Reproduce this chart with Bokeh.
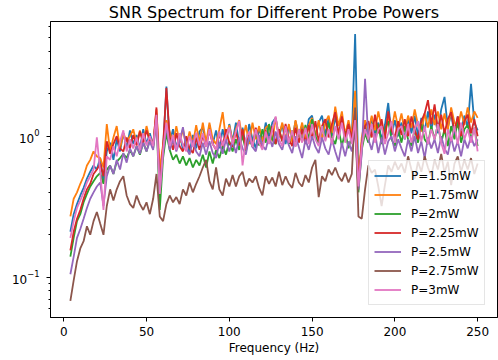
from bokeh.plotting import figure
from bokeh.models import Range1d, FixedTicker
from bokeh.embed import file_html
from bokeh.resources import INLINE

# Frequency grid (Hz)
freq = list(range(4, 251, 2))

snr_1_5mW = [
    0.21, 0.28, 0.33, 0.38, 0.43, 0.50, 0.56, 0.62, 0.58, 0.70,
    0.48, 0.78, 0.90, 0.68, 0.95, 0.78, 1.05, 0.82, 1.10, 0.88,
    1.02, 0.82, 1.12, 0.88, 1.05, 0.86, 1.45, 0.48, 0.80, 2.25,
    0.90, 1.12, 0.82, 1.05, 0.80, 0.98, 0.76, 1.02, 0.82, 1.08,
    1.15, 0.85, 1.20, 0.88, 1.10, 0.82, 1.12, 0.90, 1.22, 0.92,
    1.25, 0.88, 1.15, 0.85, 1.22, 0.95, 0.82, 1.15, 0.92, 1.25,
    0.98, 1.25, 1.35, 0.98, 1.22, 0.88, 1.18, 0.95, 1.28, 1.00,
    1.20, 0.92, 1.32, 1.40, 0.98, 1.25, 1.40, 1.02, 1.35, 1.00,
    1.38, 1.05, 1.22, 1.02, 1.25, 0.95, 5.30, 0.50, 0.85, 1.20,
    0.98, 1.35, 1.05, 1.25, 0.95, 1.20, 1.72, 1.02, 1.30, 1.00,
    1.25, 0.95, 1.35, 1.05, 1.40, 1.00, 1.35, 1.08, 1.50, 1.12,
    1.42, 1.05, 1.55, 1.90, 1.15, 1.45, 1.02, 1.38, 1.10, 1.40,
    1.15, 2.35, 1.25, 1.10,
]
snr_1_75mW = [
    0.27, 0.36, 0.40, 0.46, 0.52, 0.62, 0.68, 0.78, 0.72, 0.70,
    0.60, 1.22, 0.78, 0.98, 1.18, 0.82, 1.05, 0.92, 1.00, 1.12,
    0.88, 1.10, 0.90, 1.18, 0.95, 0.88, 1.55, 0.58, 0.88, 1.30,
    1.08, 0.88, 1.18, 0.90, 1.12, 0.85, 1.08, 0.88, 1.20, 0.90,
    1.25, 0.90, 1.25, 0.95, 0.88, 1.12, 1.48, 0.95, 1.20, 0.90,
    1.12, 1.30, 0.95, 1.20, 0.88, 1.25, 0.95, 1.18, 0.92, 1.15,
    1.20, 0.92, 1.35, 1.00, 1.25, 0.95, 1.22, 0.90, 1.30, 1.00,
    1.25, 0.95, 1.20, 1.35, 1.00, 1.30, 0.95, 1.25, 1.40, 1.05,
    1.62, 1.18, 1.50, 1.02, 1.30, 1.00, 2.10, 0.48, 0.98, 1.30,
    1.05, 1.40, 1.10, 1.50, 1.15, 1.02, 1.40, 1.10, 1.50, 1.15,
    1.45, 1.08, 1.40, 1.15, 1.55, 1.20, 1.08, 1.45, 1.15, 1.55,
    1.20, 1.50, 1.12, 1.45, 1.10, 1.60, 1.25, 1.15, 1.50, 1.20,
    1.60, 1.25, 1.50, 1.35,
]
snr_2mW = [
    0.14, 0.19, 0.25, 0.28, 0.34, 0.39, 0.44, 0.48, 0.52, 0.55,
    0.46, 0.58, 0.62, 0.54, 0.66, 0.70, 0.75, 0.70, 0.80, 0.72,
    0.85, 0.74, 0.90, 0.78, 0.95, 0.82, 1.40, 0.30, 0.70, 1.05,
    0.80, 0.68, 0.74, 0.64, 0.72, 0.62, 0.70, 0.60, 0.68, 0.62,
    0.74, 0.60, 0.78, 0.64, 0.80, 0.70, 0.85, 0.74, 0.92, 0.78,
    0.95, 0.80, 1.02, 0.78, 0.98, 0.84, 1.10, 0.86, 1.12, 0.90,
    1.22, 0.95, 0.88, 1.12, 0.92, 1.18, 0.88, 1.10, 0.85, 1.12,
    0.92, 1.20, 0.95, 1.32, 1.00, 0.88, 1.18, 0.95, 1.25, 0.98,
    0.88, 1.12, 0.85, 1.08, 0.82, 1.00, 1.30, 0.40, 0.80, 1.05,
    0.90, 1.18, 0.95, 1.22, 0.88, 1.12, 1.28, 0.95, 0.85, 1.12,
    0.90, 1.18, 0.95, 0.85, 1.12, 0.90, 1.22, 0.95, 0.88, 1.18,
    0.95, 1.22, 0.90, 1.12, 0.85, 1.18, 0.95, 1.28, 0.90, 1.12,
    1.20, 0.95, 1.15, 0.85,
]
snr_2_25mW = [
    0.155, 0.21, 0.26, 0.30, 0.36, 0.42, 0.46, 0.54, 0.58, 0.64,
    0.52, 0.92, 0.75, 0.88, 1.00, 0.82, 0.78, 0.98, 0.82, 1.02,
    0.86, 1.08, 0.90, 1.10, 0.92, 0.85, 1.60, 0.44, 0.85, 2.20,
    0.98, 0.80, 1.05, 0.85, 0.78, 1.00, 0.82, 0.76, 0.98, 0.80,
    1.02, 0.84, 1.10, 0.88, 0.80, 1.05, 0.85, 1.12, 0.90, 0.84,
    1.08, 0.86, 1.12, 0.80, 1.05, 0.85, 1.15, 0.90, 0.84, 1.10,
    0.90, 1.18, 0.88, 1.12, 0.92, 1.22, 0.95, 0.85, 1.15, 0.90,
    1.12, 0.88, 1.20, 0.95, 1.28, 0.92, 1.18, 1.32, 0.98, 1.22,
    1.48, 1.02, 1.38, 0.98, 1.22, 0.95, 1.50, 0.46, 0.90, 1.18,
    1.28, 0.98, 1.42, 1.05, 1.32, 0.95, 1.50, 1.10, 0.98, 1.28,
    1.02, 1.32, 1.00, 1.38, 1.10, 0.95, 1.28, 1.45, 1.80, 1.22,
    1.68, 1.12, 1.42, 1.05, 1.32, 1.48, 1.08, 1.38, 1.00, 1.28,
    1.42, 1.05, 1.32, 1.00,
]
snr_2_5mW = [
    0.105, 0.14, 0.19, 0.22, 0.26, 0.31, 0.36, 0.40, 0.44, 0.47,
    0.32, 0.52, 0.62, 0.54, 0.68, 0.58, 0.76, 0.65, 0.82, 0.72,
    0.85, 0.75, 0.90, 0.78, 0.92, 0.80, 1.30, 0.40, 0.75, 1.20,
    0.80, 0.95, 0.78, 0.92, 1.16, 0.82, 0.74, 0.94, 0.78, 0.72,
    0.90, 0.74, 0.92, 0.76, 0.70, 0.90, 0.75, 0.95, 0.78, 0.92,
    0.76, 0.98, 0.82, 0.74, 1.00, 0.84, 0.78, 1.02, 0.86, 0.80,
    1.00, 0.84, 1.08, 0.88, 0.80, 1.02, 0.86, 0.76, 1.00, 0.84,
    0.70, 0.95, 0.80, 1.00, 0.84, 0.76, 0.98, 0.82, 0.74, 0.95,
    0.78, 0.66, 0.90, 0.72, 0.92, 0.78, 1.10, 0.42, 0.75, 2.55,
    0.95, 0.80, 1.05, 0.76, 0.98, 0.74, 0.92, 1.00, 0.78, 0.95,
    0.82, 0.72, 0.95, 0.78, 1.00, 0.76, 0.92, 0.70, 0.98, 0.82,
    0.95, 0.76, 1.00, 0.82, 0.74, 0.98, 0.78, 0.92, 0.72, 0.95,
    0.82, 1.00, 0.85, 0.95,
]
snr_2_75mW = [
    0.068, 0.095, 0.13, 0.16, 0.18, 0.23, 0.20, 0.25, 0.29, 0.24,
    0.20, 0.32, 0.42, 0.35, 0.42, 0.48, 0.52, 0.38, 0.33, 0.31,
    0.38, 0.33, 0.30, 0.34, 0.28, 0.36, 0.54, 0.27, 0.25, 0.33,
    0.38, 0.34, 0.37, 0.33, 0.42, 0.38, 0.47, 0.40, 0.46, 0.52,
    0.60, 0.68, 0.48, 0.42, 0.60, 0.42, 0.38, 0.50, 0.44, 0.53,
    0.44, 0.52, 0.56, 0.44, 0.50, 0.47, 0.52, 0.43, 0.38, 0.52,
    0.46, 0.51, 0.44, 0.56, 0.45, 0.52, 0.46, 0.43, 0.55, 0.47,
    0.44, 0.53, 0.47, 0.60, 0.68, 0.37, 0.52, 0.48, 0.58, 0.53,
    0.60, 0.52, 0.48, 0.55, 0.47, 0.54, 1.60, 0.27, 0.26, 0.42,
    0.62, 0.55, 0.58, 0.44, 0.32, 0.45, 0.62, 0.56, 0.66, 0.58,
    0.64, 0.55, 0.72, 0.58, 0.50, 0.66, 0.56, 0.72, 0.60, 0.52,
    0.68, 0.58, 0.75, 0.55, 0.66, 0.45, 0.64, 0.72, 0.56, 0.68,
    0.58, 0.70, 0.54, 0.64,
]
snr_3mW = [
    0.19, 0.25, 0.31, 0.35, 0.40, 0.47, 0.52, 0.58, 0.98, 0.56,
    0.30, 0.72, 0.68, 0.85, 0.72, 0.92, 1.10, 0.78, 0.95, 0.82,
    0.98, 0.80, 1.05, 0.86, 1.00, 0.85, 1.42, 0.39, 0.80, 1.25,
    0.85, 1.02, 0.80, 1.05, 0.86, 0.78, 1.00, 0.84, 1.06, 0.86,
    1.05, 0.84, 1.12, 0.88, 0.80, 1.08, 0.86, 1.00, 1.15, 0.88,
    1.08, 1.28, 0.62, 0.95, 1.08, 0.84, 1.12, 0.90, 0.80, 1.08,
    0.88, 1.12, 1.38, 0.95, 0.85, 1.18, 0.90, 1.10, 0.84, 1.12,
    0.90, 1.15, 0.88, 1.22, 0.95, 0.85, 1.18, 0.92, 1.12, 0.88,
    1.18, 0.95, 1.25, 0.90, 1.12, 0.88, 1.30, 0.44, 0.85, 1.12,
    0.95, 1.22, 0.90, 1.12, 1.18, 0.88, 1.05, 1.28, 0.90, 1.12,
    1.18, 0.95, 1.22, 0.90, 1.12, 1.28, 0.92, 1.18, 0.88, 1.12,
    0.95, 1.22, 0.90, 0.75, 1.12, 0.92, 1.18, 0.88, 1.25, 0.95,
    1.12, 0.90, 1.15, 0.78,
]

series = [
    ("P=1.5mW", snr_1_5mW, "#1f77b4"),
    ("P=1.75mW", snr_1_75mW, "#ff7f0e"),
    ("P=2mW", snr_2mW, "#2ca02c"),
    ("P=2.25mW", snr_2_25mW, "#d62728"),
    ("P=2.5mW", snr_2_5mW, "#9467bd"),
    ("P=2.75mW", snr_2_75mW, "#8c564b"),
    ("P=3mW", snr_3mW, "#e377c2"),
]

x_ticks = [0, 50, 100, 150, 200, 250]
y_major = [0.1, 1]
y_minor = [0.06, 0.07, 0.08, 0.09, 0.2, 0.3, 0.4, 0.5, 0.6, 0.7, 0.8, 0.9,
           2, 3, 4, 5, 6]

FONT = "DejaVu Sans"

p = figure(width=498, height=360, y_axis_type="log",
           x_range=Range1d(-8.0, 262.0), y_range=Range1d(0.0518, 6.51),
           output_backend="svg", toolbar_location=None,
           title="SNR Spectrum for Different Probe Powers",
           min_border_left=50, min_border_right=1,
           min_border_top=21, min_border_bottom=43)

for label, vals, color in series:
    p.line(freq, vals, line_color=color, line_width=1.8, legend_label=label)

p.title.align = "center"
p.title.text_font = FONT
p.title.text_font_size = "16px"
p.title.text_font_style = "normal"
p.title.text_color = "#000000"
p.title.standoff = 0
p.title.offset = 0

p.xgrid.visible = False
p.ygrid.visible = False
p.outline_line_color = "#000000"
p.outline_line_width = 1
p.outline_line_alpha = 1
p.background_fill_color = "white"
p.border_fill_color = "white"

p.xaxis.ticker = FixedTicker(ticks=x_ticks)
p.yaxis.ticker = FixedTicker(ticks=y_major, minor_ticks=y_minor)
p.xaxis.axis_label = "Frequency (Hz)"

for ax in (p.xaxis[0], p.yaxis[0]):
    ax.axis_line_color = "#000000"
    ax.major_tick_line_color = "#000000"
    ax.minor_tick_line_color = "#000000"
    ax.major_tick_out = 4
    ax.major_tick_in = 0
    ax.minor_tick_out = 2
    ax.minor_tick_in = 0
    ax.major_label_text_font = FONT
    ax.major_label_text_font_size = "12px"
    ax.major_label_text_color = "#000000"
    ax.axis_label_text_font = FONT
    ax.axis_label_text_font_size = "12px"
    ax.axis_label_text_font_style = "normal"
    ax.axis_label_text_color = "#000000"

p.xaxis.major_label_standoff = 5
p.xaxis.axis_label_standoff = 2
p.yaxis.major_label_standoff = 7

lg = p.legend[0]
lg.location = (318, 12)
lg.label_text_font = FONT
lg.label_text_font_size = "12px"
lg.label_text_color = "#000000"
lg.glyph_width = 27
lg.glyph_height = 19
lg.label_height = 19
lg.label_standoff = 10
lg.spacing = 0
lg.padding = 5
lg.margin = 0
lg.border_line_color = "#cccccc"
lg.border_line_width = 1
lg.background_fill_color = "white"
lg.background_fill_alpha = 0.8

open("out.html", "w").write(file_html(p, INLINE))
